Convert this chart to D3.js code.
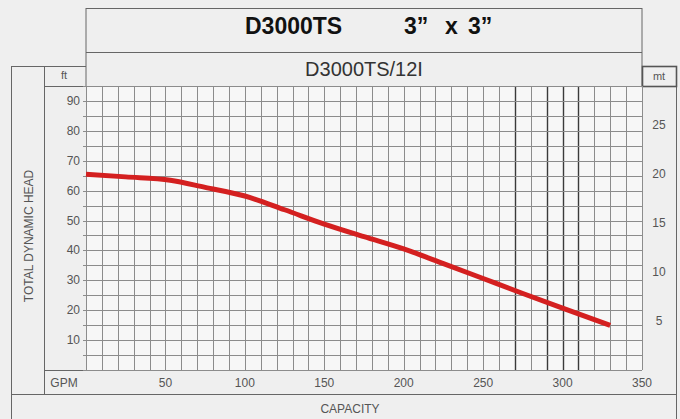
<!DOCTYPE html>
<html><head><meta charset="utf-8">
<script src="https://cdn.jsdelivr.net/npm/d3@7"></script>
<style>
html,body{margin:0;padding:0;background:#efefef;}
svg{display:block;font-family:"Liberation Sans",Arial,sans-serif;}
</style></head>
<body>
<svg id="chart" width="680" height="419"></svg>
<script>
// ---- data ----
const title = "D3000TS";
const titleSize = ["3”", "x", "3”"];
const subtitle = "D3000TS/12I";
const capacityGPM = [0, 25, 53, 75, 100, 125, 150, 175, 200, 225, 250, 275, 300, 330];
const headFt      = [65.5, 64.6, 63.5, 61.1, 58.2, 53.6, 48.8, 44.6, 40.5, 35.6, 30.6, 25.6, 20.7, 14.9];
const xTicks = [50, 100, 150, 200, 250, 300, 350];
const ftTicks = [10, 20, 30, 40, 50, 60, 70, 80, 90];
const mtTicks = [5, 10, 15, 20, 25];
const darkGPMLines = [270, 290, 300, 310];
const FT_PER_M = 3.28084;

// ---- layout ----
const svg = d3.select("#chart");
const L = 86, R = 642, T = 86, B = 370;
const x = d3.scaleLinear().domain([0, 350]).range([L, R]);
const y = d3.scaleLinear().domain([0, 95]).range([B, T]);
const ym = d3.scaleLinear().domain([0, 95 / FT_PER_M]).range([B, T]);

// backgrounds
svg.append("rect").attr("width", 680).attr("height", 419).attr("fill", "#efefef");
svg.append("rect").attr("x", L).attr("y", T).attr("width", R - L).attr("height", B - T).attr("fill", "#f7f7f7");

const frame = svg.append("g").attr("stroke", "#666").attr("stroke-width", 1).attr("fill", "none");
const seg = (x1, y1, x2, y2) => frame.append("line").attr("x1", x1).attr("y1", y1).attr("x2", x2).attr("y2", y2);
// title box
seg(L, 8.5, R, 8.5);
seg(L, 8, L, T);
seg(R, 8, R, T);
seg(L, 52.5, R, 52.5);
// left columns
seg(11.5, 66.5, L, 66.5);
seg(11.5, 66, 11.5, 419);
seg(44.5, 66, 44.5, 394);
seg(44, T + 0.5, L, T + 0.5);
// right column
seg(676.5, 66, 676.5, 419);
// bottom rows
seg(44, B + 0.5, R, B + 0.5);
seg(11, 394.5, 677, 394.5);
// mt box
svg.append("rect").attr("x", 642.5).attr("y", 66.5).attr("width", 34).attr("height", 20)
  .attr("fill", "none").attr("stroke", "#555").attr("stroke-width", 1.6);

// grid
const grid = svg.append("g");
grid.selectAll("line.v").data(d3.range(0, 351, 10)).join("line")
  .attr("x1", d => Math.round(x(d)) + 0.5).attr("x2", d => Math.round(x(d)) + 0.5)
  .attr("y1", T).attr("y2", B)
  .attr("stroke", d => darkGPMLines.includes(d) ? "#3a3a3a" : "#8c8c8c")
  .attr("stroke-width", d => darkGPMLines.includes(d) ? 1.4 : 1);
grid.selectAll("line.h").data(d3.range(0, 96, 5)).join("line")
  .attr("x1", L - 3).attr("x2", R)
  .attr("y1", d => Math.round(y(d)) + 0.5).attr("y2", d => Math.round(y(d)) + 0.5)
  .attr("stroke", "#8c8c8c").attr("stroke-width", 1);

// curve
const pts = capacityGPM.map((c, i) => [c, headFt[i]]);
svg.append("path").datum(pts)
  .attr("d", d3.line().x(d => x(d[0])).y(d => y(d[1])).curve(d3.curveMonotoneX))
  .attr("fill", "none").attr("stroke", "#d42020").attr("stroke-width", 5).attr("stroke-linecap", "butt");

// axes labels
const axisG = svg.append("g").attr("fill", "#555").attr("font-size", 12);
axisG.selectAll("text.ft").data(ftTicks).join("text")
  .attr("x", 80).attr("y", d => y(d) + 4).attr("text-anchor", "end").text(d => d);
axisG.selectAll("text.mt").data(mtTicks).join("text")
  .attr("x", 659).attr("y", d => ym(d) + 4).attr("text-anchor", "middle").text(d => d);
axisG.selectAll("text.gpm").data(xTicks).join("text")
  .attr("x", d => x(d)).attr("y", 387).attr("text-anchor", "middle").text(d => d);
axisG.append("text").attr("x", 64).attr("y", 387).attr("text-anchor", "middle").text("GPM");
axisG.append("text").attr("x", 64).attr("y", 79).attr("text-anchor", "middle").attr("font-size", 11).text("ft");
axisG.append("text").attr("x", 659).attr("y", 80).attr("text-anchor", "middle").attr("font-size", 11).text("mt");
axisG.append("text").attr("x", 350).attr("y", 413).attr("text-anchor", "middle").text("CAPACITY");
axisG.append("text").attr("transform", "translate(33,236) rotate(-90)").attr("text-anchor", "middle").text("TOTAL DYNAMIC HEAD");

// titles
svg.append("text").attr("x", 245).attr("y", 34).attr("font-size", 23).attr("font-weight", "bold").attr("fill", "#111").text(title);
const tpos = [404, 445, 468];
svg.selectAll("text.ts").data(titleSize).join("text")
  .attr("x", (d, i) => tpos[i]).attr("y", 34).attr("font-size", 23).attr("font-weight", "bold").attr("fill", "#111").text(d => d);
svg.append("text").attr("x", 364).attr("y", 76).attr("text-anchor", "middle").attr("font-size", 20).attr("fill", "#333").text(subtitle);
</script>
</body></html>
